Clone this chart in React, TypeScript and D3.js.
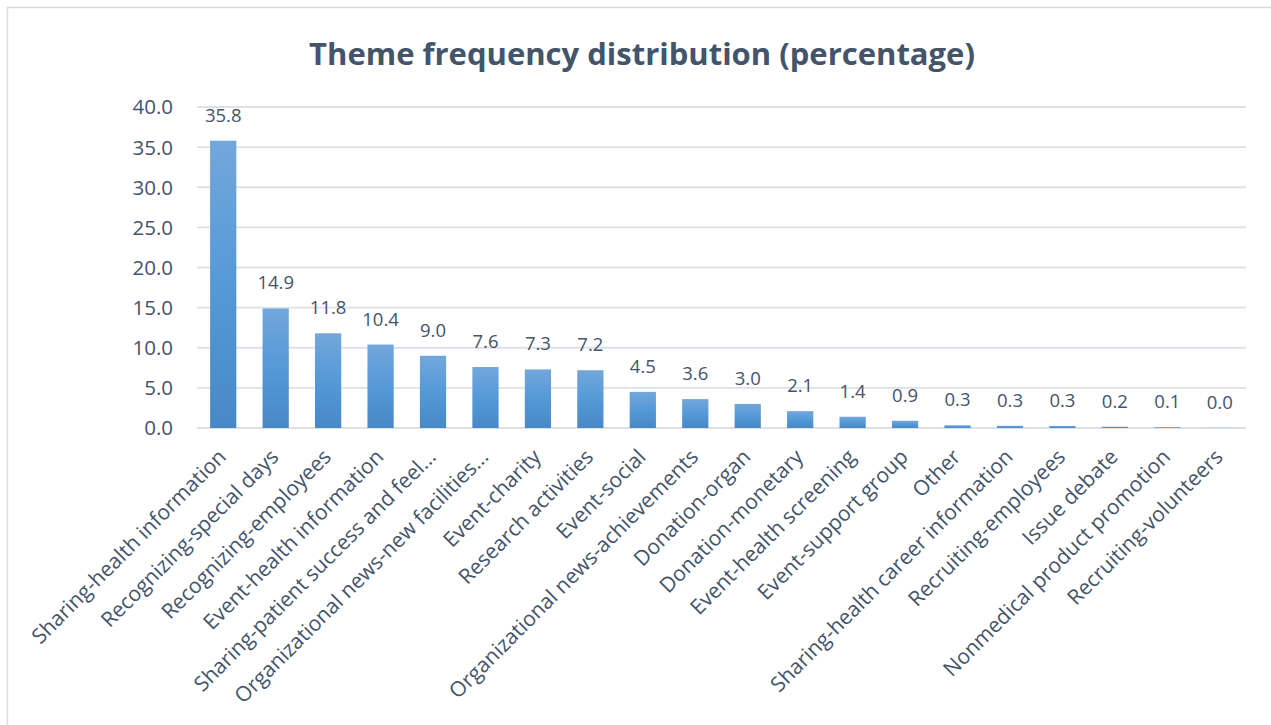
import * as d3 from "d3";

const categories = [
  "Sharing-health information",
  "Recognizing-special days",
  "Recognizing-employees",
  "Event-health information",
  "Sharing-patient success and feel...",
  "Organizational news-new facilities...",
  "Event-charity",
  "Research activities",
  "Event-social",
  "Organizational news-achievements",
  "Donation-organ",
  "Donation-monetary",
  "Event-health screening",
  "Event-support group",
  "Other",
  "Sharing-health career information",
  "Recruiting-employees",
  "Issue debate",
  "Nonmedical product promotion",
  "Recruiting-volunteers",
];

const values = [35.8, 14.9, 11.8, 10.4, 9.0, 7.6, 7.3, 7.2, 4.5, 3.6, 3.0, 2.1, 1.4, 0.9, 0.34, 0.27, 0.26, 0.16, 0.1, 0.02];

const yTicks = [0, 5, 10, 15, 20, 25, 30, 35, 40];

const W = 1271;
const H = 725;
const margin = { left: 197, right: 25, top: 107, bottom: 297 };
const textColor = "#44546a";
const font = "'Open Sans', sans-serif";

export default function App() {
  const x = d3.scaleBand<string>()
    .domain(categories)
    .range([margin.left, W - margin.right])
    .paddingInner(0.5)
    .paddingOuter(0.25);

  const y = d3.scaleLinear()
    .domain([0, 40])
    .range([H - margin.bottom, margin.top]);

  const fmt = d3.format(".1f");

  return (
    <div style={{ position: "absolute", left: 0, top: 0 }}>
      <svg width={W} height={H} style={{ display: "block", background: "#fff" }}>
        <defs>
          <linearGradient id="barFill" x1="0" y1="0" x2="0" y2="1">
            <stop offset="0%" stopColor="#72a7db" />
            <stop offset="50%" stopColor="#5599d8" />
            <stop offset="100%" stopColor="#4788c8" />
          </linearGradient>
        </defs>
        <rect x={7.5} y={7.5} width={W + 10} height={H + 10} fill="none" stroke="#d9dce1" strokeWidth={1.5} />

        <text
          x={642}
          y={65}
          textAnchor="middle"
          fontFamily={font}
          fontWeight="bold"
          fontSize={31}
          fill={textColor}
        >
          Theme frequency distribution (percentage)
        </text>

        {yTicks.map((t) => (
          <g key={t}>
            <line
              x1={margin.left}
              x2={W - margin.right}
              y1={y(t)}
              y2={y(t)}
              stroke="#dde1e6"
              strokeWidth={1.8}
            />
            <text
              x={173}
              y={y(t)}
              dy="0.36em"
              textAnchor="end"
              fontFamily={font}
              fontSize={20.5}
              fill={textColor}
            >
              {fmt(t)}
            </text>
          </g>
        ))}

        {categories.map((c, i) => {
          const bx = x(c) as number;
          const bw = x.bandwidth();
          const top = y(values[i]);
          const cx = bx + bw / 2;
          return (
            <g key={c}>
              <rect x={bx} y={top} width={bw} height={y(0) - top} fill="url(#barFill)" />
              <text
                x={cx}
                y={top - 19}
                textAnchor="middle"
                fontFamily={font}
                fontSize={18.5}
                fill={textColor}
              >
                {fmt(values[i])}
              </text>
              <text
                transform={`translate(${cx - 1},${y(0) + 25}) rotate(-45)`}
                dy="0.35em"
                textAnchor="end"
                fontFamily={font}
                fontSize={21}
                fill={textColor}
              >
                {c}
              </text>
            </g>
          );
        })}
      </svg>
    </div>
  );
}
